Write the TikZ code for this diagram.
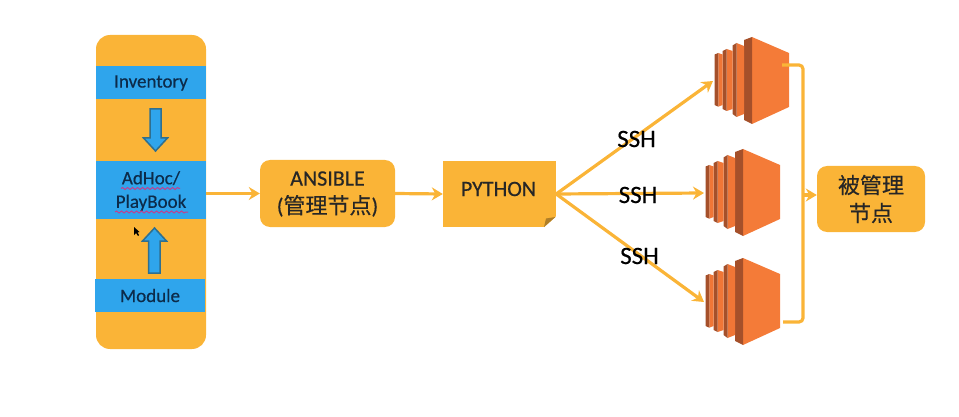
\documentclass[tikz,border=0pt]{standalone}
\usepackage{fontspec}
\setmainfont{Carlito}[FakeBold=0.45]
\newfontfamily\cjk{Noto Sans CJK SC}[FakeBold=0.4]
\usetikzlibrary{arrows, arrows.meta}
\usetikzlibrary{decorations.pathmorphing}

\definecolor{amber}{HTML}{FAB437}
\definecolor{skyband}{HTML}{2FA5EC}
\definecolor{skyedge}{HTML}{2F6F8F}
\definecolor{navytext}{HTML}{0C2B4A}
\definecolor{ec2face}{HTML}{F47B38}
\definecolor{ec2dark}{HTML}{A5502A}
\definecolor{ec2mid}{HTML}{F07636}
\definecolor{wavyline}{HTML}{C0408F}

\tikzset{
  panelbox/.style={rectangle, fill=amber, rounded corners=14pt, inner sep=0pt},
  bandbox/.style={rectangle, fill=skyband, inner sep=0pt, text=navytext, align=center, font=\fontsize{19}{23.5}\selectfont},
  amberbox/.style={rectangle, fill=amber, rounded corners=10pt, inner sep=0pt, text=black!85, align=center, font=\fontsize{22}{28}\selectfont},
  flowarrow/.style={fill=skyband, draw=skyedge, line width=1.5pt, line join=miter},
  link/.style={draw=amber, line width=3.2pt, -{Stealth[length=11pt, width=13pt]}},
  rail/.style={draw=amber, line width=3.2pt, rounded corners=4pt},
  sshlabel/.style={inner sep=0pt, text=black, font=\fontsize{25}{28}\selectfont},
  squiggle/.style={draw=wavyline, line width=1pt, decorate, decoration={snake, amplitude=1pt, segment length=5pt}},
  server/.pic={
    \fill[ec2face] (0,0) -- (37,16) -- (37,70) -- (0,87) -- cycle;
    \fill[ec2dark] (-8,3) -- (0,0) -- (0,87) -- (-8,83) -- cycle;
    \fill[ec2mid] (-15.5,6) -- (-8,9) -- (-8,77) -- (-15.5,80) -- cycle;
    \fill[ec2dark] (-19.5,8.5) -- (-15.5,6) -- (-15.5,80) -- (-19.5,77) -- cycle;
    \fill[ec2mid] (-25.5,12) -- (-19.5,14) -- (-19.5,72) -- (-25.5,74) -- cycle;
    \fill[ec2dark] (-29.5,14) -- (-25.5,12) -- (-25.5,74) -- (-29.5,72) -- cycle;
    \fill[ec2mid] (-33.7,16) -- (-29.5,17.5) -- (-29.5,68) -- (-33.7,69.7) -- cycle;
    \fill[ec2dark] (-37.5,17.5) -- (-33.7,16) -- (-33.7,69.7) -- (-37.5,68) -- cycle;
    \coordinate (-west) at (-39,44);
    \coordinate (-outa) at (30,28);
    \coordinate (-outb) at (40,64);
  }
}

\begin{document}
\begin{tikzpicture}[x=1pt, y=-1pt]
  \useasboundingbox (0,0) rectangle (959,417);

  % left column
  \node[panelbox, minimum width=110pt, minimum height=314pt] (panel) at (151,192) {};
  \node[bandbox, minimum width=110pt, minimum height=33pt] (inventory) at (151,83) {Inventory};
  \node[bandbox, minimum width=110pt, minimum height=58pt] (adhoc) at (151,190) {};
  \node[bandbox] (adhoctext) at (151,191) {AdHoc/\\PlayBook};
  \node[bandbox, minimum width=110pt, minimum height=33pt] (module) at (150,295.5) {Module};

  \draw[squiggle] (121,188.5) -- (180,188.5);
  \draw[squiggle] (115,212) -- (188,212);

  \draw[flowarrow] (150,109) -- (161,109) -- (161,138) -- (167.5,138) -- (155.5,151) -- (143.5,138) -- (150,138) -- cycle;
  \draw[flowarrow] (148.5,273) -- (160,273) -- (160,241) -- (166.5,241) -- (154.5,228) -- (142.5,241) -- (148.5,241) -- cycle;

  % mouse pointer
  \fill[black] (134,227) -- (134,235) -- (136,233) -- (138,236) -- (139,235) -- (137.5,232.5) -- (139.5,232) -- cycle;

  % middle boxes
  \node[amberbox, minimum width=135pt, minimum height=67pt] (ansible) at (327.5,193.5) {};
  \node[amberbox, fill=none] (ansibletext) at (327.5,194) {ANSIBLE\\({\cjk 管理节点})};
  \node[amberbox, rounded corners=0pt, minimum width=113pt, minimum height=66pt] (python) at (499.5,194) {};
  \node[inner sep=0pt, text=black!85, font=\fontsize{22}{26}\selectfont] (pythontext) at (498.5,189) {PYTHON};
  \fill[white] (544,227.5) -- (556.5,227.5) -- (556.5,216) -- cycle;
  \fill[amber!70!black] (544,227) -- (555.5,217) -- (546,218.5) -- cycle;

  % servers
  \pic (srv1) at (752,37) {server};
  \pic (srv2) at (743,149) {server};
  \pic (srv3) at (743,258) {server};

  \node[amberbox, minimum width=108pt, minimum height=66pt] (managed) at (871,199) {{\cjk 被管理}\\{\cjk 节点}};

  % connectors
  \draw[link] (panel.east |- ansible.west) -- (ansible.west);
  \draw[link] (ansible.east) -- (python.west);
  \draw[link] (python.east) -- (srv1-west);
  \draw[link] (python.east) -- (srv2-west);
  \draw[link] (python.east) -- (srv3-west);

  \coordinate (railjoin) at (803,195);
  \draw[rail] (srv1-outa) -| (railjoin) |- (srv3-outb);
  \draw[link] (railjoin) -- (railjoin -| managed.west);

  \node[sshlabel] (ssh1) at (636.5,139) {SSH};
  \node[sshlabel] (ssh2) at (638,195) {SSH};
  \node[sshlabel] (ssh3) at (639.5,256) {SSH};
\end{tikzpicture}
\end{document}
